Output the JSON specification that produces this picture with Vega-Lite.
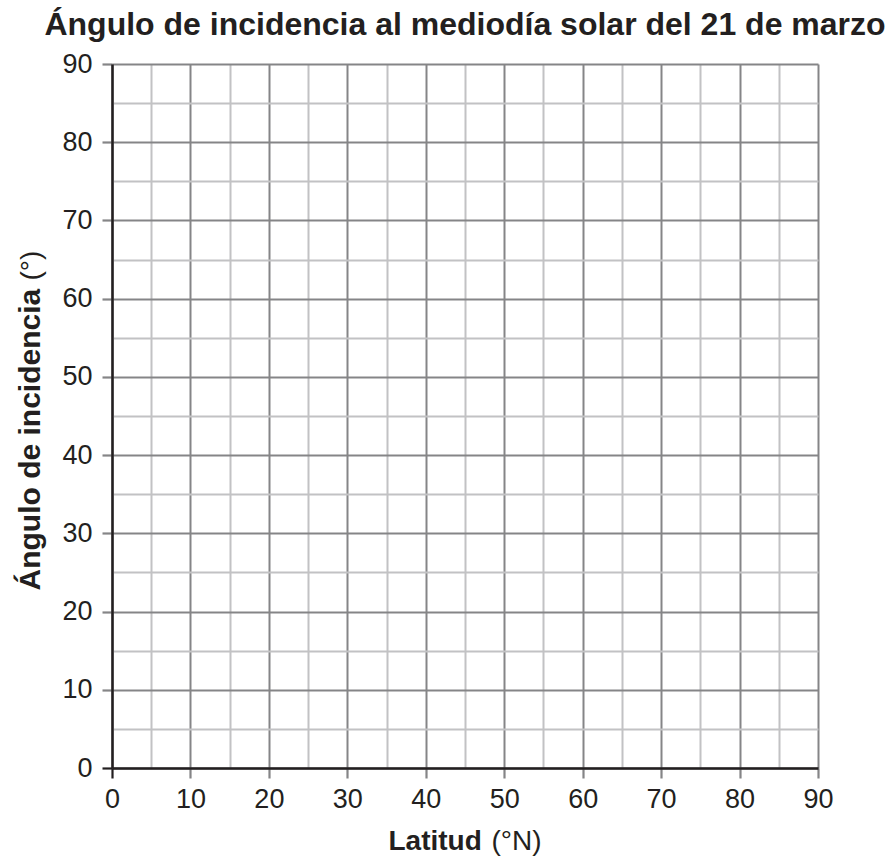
{
  "$schema": "https://vega.github.io/schema/vega-lite/v6.json",
  "width": 706,
  "height": 704,
  "autosize": {"type": "none"},
  "padding": {"left": 112, "top": 64, "right": 76, "bottom": 92},
  "title": {
    "text": "Ángulo de incidencia al mediodía solar del 21 de marzo",
    "fontSize": 32,
    "fontWeight": "bold",
    "font": "Liberation Sans",
    "color": "#231f20",
    "anchor": "middle",
    "frame": "group",
    "baseline": "alphabetic",
    "offset": -17
  },
  "data": {"values": []},
  "layer": [
    {
      "mark": {"type": "point", "opacity": 0},
      "encoding": {
        "x": {
          "field": "latitud",
          "type": "quantitative",
          "scale": {"domain": [0, 90], "nice": false, "zero": false},
          "axis": {
            "orient": "bottom",
            "title": "Latitud",
            "titleFontSize": 28,
            "titleFontWeight": "bold",
            "titleColor": "#231f20",
            "titleAlign": "left",
            "titleBaseline": "alphabetic",
            "titleX": 276,
            "titleY": 81,
            "values": [0, 5, 10, 15, 20, 25, 30, 35, 40, 45, 50, 55, 60, 65, 70, 75, 80, 85, 90],
            "labelExpr": "datum.value % 10 === 0 ? datum.label : ''",
            "labelFontSize": 27,
            "labelColor": "#231f20",
            "labelPadding": 8,
            "labelFlush": false,
            "labelOverlap": false,
            "tickSize": 10,
            "tickWidth": 2.2,
            "tickColor": {"condition": {"test": "datum.value === 0", "value": "#231f20"}, "value": "#858587"},
            "tickOpacity": {"condition": {"test": "datum.value % 10 === 0", "value": 1}, "value": 0},
            "domainColor": "#231f20",
            "domainWidth": 2.5,
            "grid": true,
            "gridColor": {"condition": {"test": "datum.value % 10 === 0", "value": "#858587"}, "value": "#c2c2c4"},
            "gridWidth": 2,
            "gridOpacity": 1
          }
        },
        "y": {
          "field": "angulo",
          "type": "quantitative",
          "scale": {"domain": [0, 90], "nice": false, "zero": false},
          "axis": {
            "orient": "left",
            "title": "Ángulo de incidencia",
            "titleFontSize": 30,
            "titleFontWeight": "bold",
            "titleColor": "#231f20",
            "titleAngle": 270,
            "titleAlign": "left",
            "titleBaseline": "alphabetic",
            "titleX": -73,
            "titleY": 526,
            "values": [0, 5, 10, 15, 20, 25, 30, 35, 40, 45, 50, 55, 60, 65, 70, 75, 80, 85, 90],
            "labelExpr": "datum.value % 10 === 0 ? datum.label : ''",
            "labelFontSize": 27,
            "labelColor": "#231f20",
            "labelPadding": 10,
            "labelFlush": false,
            "labelOverlap": false,
            "labelBaseline": "middle",
            "tickSize": 10,
            "tickWidth": 2.2,
            "tickColor": {"condition": {"test": "datum.value === 0", "value": "#231f20"}, "value": "#858587"},
            "tickOpacity": {"condition": {"test": "datum.value % 10 === 0", "value": 1}, "value": 0},
            "domainColor": "#231f20",
            "domainWidth": 2.5,
            "grid": true,
            "gridColor": {"condition": {"test": "datum.value % 10 === 0", "value": "#858587"}, "value": "#c2c2c4"},
            "gridWidth": 2,
            "gridOpacity": 1
          }
        }
      }
    },
    {
      "mark": {"type": "point", "opacity": 0},
      "encoding": {
        "x": {
          "field": "latitud",
          "type": "quantitative",
          "axis": {
            "orient": "bottom",
            "title": "(°N)",
            "titleFontSize": 28,
            "titleFontWeight": "normal",
            "titleColor": "#231f20",
            "titleAlign": "left",
            "titleBaseline": "alphabetic",
            "titleX": 379,
            "titleY": 81,
            "labels": false,
            "ticks": false,
            "domain": false,
            "grid": false
          }
        },
        "y": {
          "field": "angulo",
          "type": "quantitative",
          "axis": {
            "orient": "left",
            "title": "(°)",
            "titleFontSize": 28,
            "titleFontWeight": "normal",
            "titleColor": "#231f20",
            "titleAngle": 270,
            "titleAlign": "left",
            "titleBaseline": "alphabetic",
            "titleX": -73,
            "titleY": 216,
            "labels": false,
            "ticks": false,
            "domain": false,
            "grid": false
          }
        }
      }
    }
  ],
  "resolve": {"axis": {"x": "independent", "y": "independent"}},
  "config": {"view": {"stroke": null}, "font": "Liberation Sans"}
}
